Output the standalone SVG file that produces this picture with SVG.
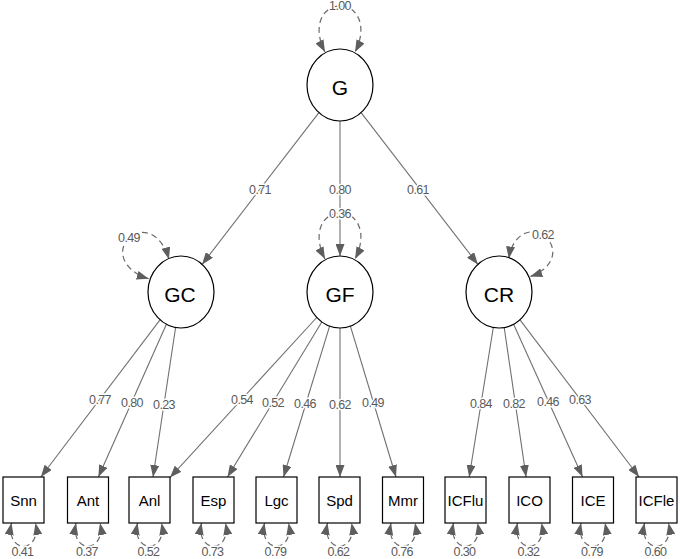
<svg xmlns="http://www.w3.org/2000/svg" width="680" height="559" viewBox="0 0 680 559">
<style>
.bg{fill:#ffffff}
.lat ellipse{fill:#ffffff;stroke:#000;stroke-width:1.2}
.obs rect{fill:#ffffff;stroke:#000;stroke-width:1.2}
.lat text{font-family:"Liberation Sans",Arial,sans-serif;font-size:21px;fill:#000;text-anchor:middle}
.obs text{font-family:"Liberation Sans",Arial,sans-serif;font-size:15px;fill:#000;text-anchor:middle}
.e{fill:none;stroke:#707070;stroke-width:1.1;marker-end:url(#ah)}
.v{fill:none;stroke:#6a6a6a;stroke-width:1.2;stroke-dasharray:6,4;marker-start:url(#ah2);marker-end:url(#ah2)}
.lb{font-family:"Liberation Sans",Arial,sans-serif;font-size:12.5px;fill:#5a5a5a;text-anchor:middle;letter-spacing:-0.6px;stroke:#ffffff;stroke-width:3px;paint-order:stroke;stroke-linejoin:round}
</style>
<defs>
<marker id="ah" markerWidth="12" markerHeight="9" refX="12" refY="4.5" orient="auto" markerUnits="userSpaceOnUse"><path d="M0,0 L12,4.5 L0,9 z" fill="#5e5e5e"/></marker>
<marker id="ah2" markerWidth="12" markerHeight="9" refX="12" refY="4.5" orient="auto-start-reverse" markerUnits="userSpaceOnUse"><path d="M0,0 L12,4.5 L0,9 z" fill="#5e5e5e"/></marker>
<path id="loopU" d="M -15,-33 C -28,-58 -18,-79 0,-79 C 18,-79 28,-58 15,-33"/>
<path id="loopGC" d="M -14,-32 C -27,-55 -18,-75 0,-75 C 18,-75 27,-55 14,-32"/>
<path id="loopCR" d="M -14,-32 C -27,-53 -18,-72 0,-72 C 18,-72 27,-53 14,-32"/>
<path id="res" d="M -12,523 C -18,554 18,554 12,523"/>
</defs>
<rect class="bg" x="0" y="0" width="680" height="559"/>

<g id="connectors">
<path class="e" d="M318.9,112.6 L202.1,264.4"/>
<path class="e" d="M340,121 L340,256"/>
<path class="e" d="M361.1,112.6 L477.9,264.4"/>
<path class="e" d="M160,319.8 L40.9,477"/>
<path class="e" d="M166.4,324.3 L98.4,477"/>
<path class="e" d="M175.6,327.5 L153,477"/>
<path class="e" d="M316.7,317.5 L170,477.6"/>
<path class="e" d="M321.8,322 L227.5,477"/>
<path class="e" d="M329.6,326.2 L283.5,477"/>
<path class="e" d="M340,328 L340,477"/>
<path class="e" d="M350.4,326.2 L396,477"/>
<path class="e" d="M493.3,327.5 L469.2,477"/>
<path class="e" d="M504.2,327.5 L526.1,477"/>
<path class="e" d="M513.6,324.3 L582.6,477"/>
<path class="e" d="M520,319.8 L639.1,477"/>
<use class="v" href="#loopU" transform="translate(340,85)"/>
<use class="v" href="#loopU" transform="translate(340,292)"/>
<use class="v" href="#loopGC" transform="translate(181,292) rotate(-44)"/>
<use class="v" href="#loopCR" transform="translate(499,292) rotate(40)"/>
<use class="v" href="#res" transform="translate(23.5,0)"/>
<use class="v" href="#res" transform="translate(88,0)"/>
<use class="v" href="#res" transform="translate(149.5,0)"/>
<use class="v" href="#res" transform="translate(213.5,0)"/>
<use class="v" href="#res" transform="translate(276.5,0)"/>
<use class="v" href="#res" transform="translate(339.5,0)"/>
<use class="v" href="#res" transform="translate(403,0)"/>
<use class="v" href="#res" transform="translate(465.5,0)"/>
<use class="v" href="#res" transform="translate(529.5,0)"/>
<use class="v" href="#res" transform="translate(593,0)"/>
<use class="v" href="#res" transform="translate(656.5,0)"/>
<text class="lb" x="260" y="194">0.71</text>
<text class="lb" x="340" y="194">0.80</text>
<text class="lb" x="418" y="194">0.61</text>
<text class="lb" x="340" y="10">1.00</text>
<text class="lb" x="340" y="218">0.36</text>
<text class="lb" x="129" y="242">0.49</text>
<text class="lb" x="543" y="239">0.62</text>
<text class="lb" x="100" y="404">0.77</text>
<text class="lb" x="132" y="407">0.80</text>
<text class="lb" x="164" y="409">0.23</text>
<text class="lb" x="242" y="404">0.54</text>
<text class="lb" x="273" y="407">0.52</text>
<text class="lb" x="305" y="408">0.46</text>
<text class="lb" x="340" y="409">0.62</text>
<text class="lb" x="373" y="407">0.49</text>
<text class="lb" x="481" y="408">0.84</text>
<text class="lb" x="514" y="408">0.82</text>
<text class="lb" x="548" y="406">0.46</text>
<text class="lb" x="580" y="404">0.63</text>
<text class="lb" x="22.5" y="556">0.41</text>
<text class="lb" x="87" y="556">0.37</text>
<text class="lb" x="148.5" y="556">0.52</text>
<text class="lb" x="212.5" y="556">0.73</text>
<text class="lb" x="275.5" y="556">0.79</text>
<text class="lb" x="338.5" y="556">0.62</text>
<text class="lb" x="402" y="556">0.76</text>
<text class="lb" x="464.5" y="556">0.30</text>
<text class="lb" x="528.5" y="556">0.32</text>
<text class="lb" x="592" y="556">0.79</text>
<text class="lb" x="655.5" y="556">0.60</text>
</g>

<g id="G" class="lat"><ellipse cx="340" cy="85" rx="33" ry="36"/><text x="340" y="95">G</text></g>
<g id="GC" class="lat"><ellipse cx="181" cy="292" rx="33" ry="36"/><text x="180" y="302">GC</text></g>
<g id="GF" class="lat"><ellipse cx="340" cy="292" rx="33" ry="36"/><text x="340" y="302">GF</text></g>
<g id="CR" class="lat"><ellipse cx="499" cy="292" rx="33" ry="36"/><text x="499" y="302">CR</text></g>

<g id="Snn" class="obs"><rect x="3" y="477" width="41" height="46"/><text x="23.5" y="506">Snn</text></g>
<g id="Ant" class="obs"><rect x="67.5" y="477" width="41" height="46"/><text x="88" y="506">Ant</text></g>
<g id="Anl" class="obs"><rect x="129" y="477" width="41" height="46"/><text x="149.5" y="506">Anl</text></g>
<g id="Esp" class="obs"><rect x="193" y="477" width="41" height="46"/><text x="213.5" y="506">Esp</text></g>
<g id="Lgc" class="obs"><rect x="256" y="477" width="41" height="46"/><text x="276.5" y="506">Lgc</text></g>
<g id="Spd" class="obs"><rect x="319" y="477" width="41" height="46"/><text x="339.5" y="506">Spd</text></g>
<g id="Mmr" class="obs"><rect x="382.5" y="477" width="41" height="46"/><text x="403" y="506">Mmr</text></g>
<g id="ICFlu" class="obs"><rect x="445" y="477" width="41" height="46"/><text x="465.5" y="506">ICFlu</text></g>
<g id="ICO" class="obs"><rect x="509" y="477" width="41" height="46"/><text x="529.5" y="506">ICO</text></g>
<g id="ICE" class="obs"><rect x="572.5" y="477" width="41" height="46"/><text x="593" y="506">ICE</text></g>
<g id="ICFle" class="obs"><rect x="636" y="477" width="41" height="46"/><text x="656.5" y="506">ICFle</text></g>
</svg>
